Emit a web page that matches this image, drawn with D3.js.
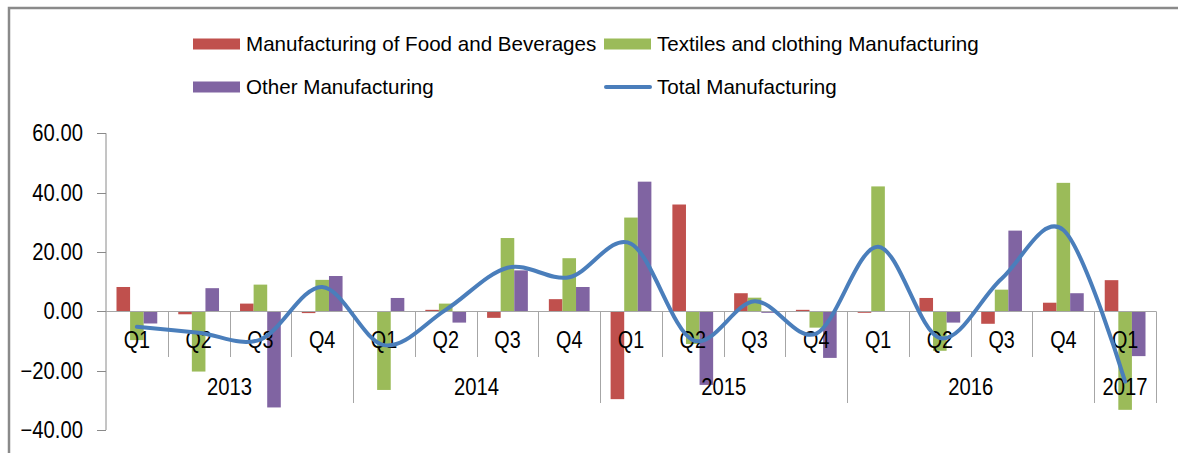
<!DOCTYPE html>
<html>
<head>
<meta charset="utf-8">
<script src="https://cdn.jsdelivr.net/npm/d3@7"></script>
<style>
  html, body { margin: 0; padding: 0; background: #fff; }
  text { font-family: "Liberation Sans", Arial, sans-serif; fill: #000; }
</style>
</head>
<body>
<div id="chart-container" style="width:1178px;height:453px"></div>
<script>
// quarterly change (%)
let quarters = ["Q1","Q2","Q3","Q4","Q1","Q2","Q3","Q4","Q1","Q2","Q3","Q4","Q1","Q2","Q3","Q4","Q1"],
    years = ["2013","2014","2015","2016","2017"],
    quartersPerYear = [4, 4, 4, 4, 1],
    food     = [8.2, -1.0, 2.6, -0.6, 0.0, 0.5, -2.2, 4.1, -29.6, 36.0, 6.1, 0.5, -0.5, 4.5, -4.2, 2.9, 10.5],
    textiles = [-9.7, -20.3, 9.0, 10.6, -26.5, 2.6, 24.7, 17.9, 31.6, -11.0, 4.6, -5.5, 42.1, -13.3, 7.3, 43.3, -33.2],
    other    = [-4.1, 7.8, -32.4, 11.9, 4.5, -3.8, 13.8, 8.2, 43.7, -24.8, -0.5, -15.7, 0.0, -3.8, 27.2, 6.1, -15.1],
    total    = [-5.2, -7.2, -9.5, 8.2, -11.4, 0.5, 14.7, 11.5, 22.8, -9.7, 3.4, -7.5, 21.8, -9.0, 11.0, 27.4, -23.7],
    yTicks = [-40, -20, 0, 20, 40, 60];

let series = [
    { name: "Manufacturing of Food and Beverages", values: food, color: "#c0504d" },
    { name: "Textiles and clothing Manufacturing", values: textiles, color: "#9bbb59" },
    { name: "Other Manufacturing", values: other, color: "#8064a2" }
];
let lineColor = "#4a7ebb";

let svg = d3.select("#chart-container").append("svg").attr("width", 1178).attr("height", 453),
    plotLeft = 106, plotRight = 1156, plotTop = 133.3, plotBottom = 430;

let keys = quarters.map((q, i) => i);

let x = d3.scaleBand().domain(keys).range([plotLeft, plotRight]).padding(0),
    xs = d3.scaleBand().domain(series.map(d => d.name)).range([10.5, x.bandwidth() - 10.5]).padding(0),
    y = d3.scaleLinear().domain([-40, 60]).range([plotBottom, plotTop]);

// outer frame (right edge is off the picture)
svg.append("path")
    .attr("d", "M9,453V8H1178")
    .attr("fill", "none")
    .attr("stroke", "#8a8a8a")
    .attr("stroke-width", 2.5);

// scaled text helper - axis font is a bit squeezed horizontally
function label(sel, tx, ty, txt, size, anchor, sx) {
    return sel.append("text")
        .attr("transform", `translate(${tx},${ty}) scale(${sx},1)`)
        .attr("text-anchor", anchor)
        .attr("dy", "0.35em")
        .style("font-size", size + "px")
        .text(txt);
}

// y axis
let ya = svg.append("g");
ya.append("line")
    .attr("x1", plotLeft).attr("x2", plotLeft)
    .attr("y1", y(60)).attr("y2", y(-40))
    .attr("stroke", "#8a8a8a");
yTicks.forEach(t => {
    ya.append("line")
        .attr("x1", plotLeft - 9).attr("x2", plotLeft)
        .attr("y1", Math.round(y(t)) + 0.5).attr("y2", Math.round(y(t)) + 0.5)
        .attr("stroke", "#8a8a8a");
    label(ya, 83, y(t), d3.format(".2f")(t), 23, "end", 0.88);
});

// bars
series.forEach(s => {
    svg.append("g").selectAll("rect")
        .data(s.values)
        .join("rect")
        .attr("x", (d, i) => x(i) + xs(s.name))
        .attr("width", xs.bandwidth())
        .attr("y", d => y(Math.max(0, d)))
        .attr("height", d => Math.abs(y(d) - y(0)))
        .attr("fill", s.color);
});

// category axis along zero
let xa = svg.append("g");
xa.append("line")
    .attr("x1", plotLeft).attr("x2", plotRight)
    .attr("y1", Math.round(y(0)) + 0.5).attr("y2", Math.round(y(0)) + 0.5)
    .attr("stroke", "#a6a6a6");

let yearStarts = d3.cumsum([0].concat(quartersPerYear)); // 0,4,8,12,16,17
d3.range(keys.length + 1).forEach(i => {
    if (i === 0) return;
    let px = i < keys.length ? x(i) : plotRight,
        isYear = yearStarts.includes(i);
    xa.append("line")
        .attr("x1", Math.round(px) + 0.5).attr("x2", Math.round(px) + 0.5)
        .attr("y1", y(0)).attr("y2", isYear ? 403 : 357)
        .attr("stroke", "#a6a6a6");
});

quarters.forEach((q, i) => {
    label(xa, x(i) + x.bandwidth() / 2, 340, q, 23, "middle", 0.86);
});
years.forEach((yr, j) => {
    let x0 = x(yearStarts[j]),
        x1 = yearStarts[j + 1] < keys.length ? x(yearStarts[j + 1]) : plotRight;
    label(xa, (x0 + x1) / 2, 387, yr, 23, "middle", 0.88);
});

// total line
let line = d3.line()
    .x((d, i) => x(i) + x.bandwidth() / 2)
    .y(d => y(d))
    .curve(d3.curveCardinal.tension(0));

svg.append("path")
    .datum(total)
    .attr("fill", "none")
    .attr("stroke", lineColor)
    .attr("stroke-width", 4)
    .attr("stroke-linecap", "round")
    .attr("d", line);

// legend
let lg = svg.append("g");
let legendPos = [[193, 44], [604, 44], [193, 87]];
series.forEach((s, i) => {
    let [lx, ly] = legendPos[i];
    lg.append("rect")
        .attr("x", lx).attr("y", ly - 5.5)
        .attr("width", 47).attr("height", 11)
        .attr("fill", s.color);
    label(lg, lx + 53, ly, s.name, 20.6, "start", 1);
});
lg.append("line")
    .attr("x1", 606).attr("x2", 650)
    .attr("y1", 87).attr("y2", 87)
    .attr("stroke", lineColor)
    .attr("stroke-width", 4)
    .attr("stroke-linecap", "round");
label(lg, 657, 87, "Total Manufacturing", 20.6, "start", 1);
</script>
</body>
</html>
